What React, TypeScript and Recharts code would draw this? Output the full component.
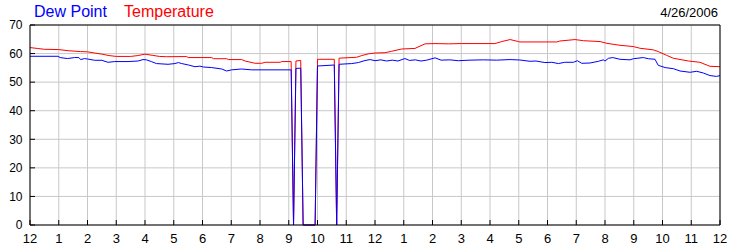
import React from 'react';
import { LineChart, Line, XAxis, YAxis, CartesianGrid } from 'recharts';

// hour of day (0-24) for each reading
const tempHours = [
  0, 0.25, 0.5, 1.0, 1.33, 1.75, 2.0, 2.25, 2.5, 2.75, 3.0, 3.5, 3.75, 4.0, 4.25, 4.5, 4.75,
  5.45, 5.5, 6.32, 6.38, 6.84, 6.9, 7.36, 7.48, 7.83, 8.06, 8.18, 8.7, 8.76,
  9.0833, 9.1667, 9.25, 9.4167, 9.5, 9.9167, 10.0, 10.5833, 10.6667, 10.75,
  11.36, 11.54, 11.77, 12.0, 12.35, 12.58, 12.93, 13.39, 13.74, 14.09, 14.55, 15.0, 15.48,
  16.17, 16.41, 16.7, 16.99, 17.04, 18.32, 18.43, 18.96, 19.25, 19.83, 20.06, 20.52, 20.99,
  21.22, 21.68, 21.85, 22.14, 22.38, 22.9, 23.3, 23.65, 24,
];
const tempValues = [
  62.1, 61.8, 61.5, 61.4, 61.0, 60.7, 60.6, 60.2, 59.8, 59.3, 59.0, 59.0, 59.3, 59.8, 59.4, 59.0, 58.9,
  58.95, 58.6, 58.6, 58.2, 58.2, 57.9, 57.9, 57.4, 56.6, 56.6, 56.95, 56.95, 57.2,
  57.2, 0, 57.4, 57.6, 0, 0, 58.0, 58.0, 0, 58.4,
  58.7, 59.3, 59.9, 60.2, 60.3, 60.8, 61.6, 61.8, 63.4, 63.5, 63.4, 63.5, 63.5,
  63.5, 64.2, 64.9, 64.2, 64.07, 64.07, 64.4, 64.9, 64.5, 64.2, 63.6, 62.9, 62.45,
  61.85, 61.3, 60.7, 59.4, 58.35, 57.4, 56.95, 55.55, 55.4,
];

const dewHours = [
  0, 0.97, 1.05, 1.3, 1.55, 1.7, 1.76, 1.9, 2.0, 2.25, 2.5, 2.71, 2.95, 3.41, 3.76, 3.93, 4.05,
  4.22, 4.4, 4.8, 5.04, 5.16, 5.28, 5.51, 5.74, 5.91, 6.03, 6.32, 6.67, 6.84, 7.01, 7.36, 7.71,
  9.0833, 9.1667, 9.25, 9.4167, 9.5, 9.9167, 10.0, 10.5833, 10.6667, 10.75,
  11.19, 11.42, 11.65, 11.83, 12.0, 12.2, 12.4, 12.6, 12.8, 13.04, 13.2, 13.4, 13.6, 13.8,
  14.09, 14.3, 14.6, 14.9, 15.3, 15.77, 16.23, 16.7, 17.04, 17.39, 17.6, 17.91, 18.15, 18.38,
  18.6, 18.9, 19.04, 19.19, 19.48, 19.77, 19.94, 20.0, 20.12, 20.27, 20.52, 20.87, 20.99,
  21.33, 21.51, 21.74, 21.85, 22.09, 22.38, 22.61, 22.96, 23.19, 23.42, 23.65, 23.88, 24,
];
const dewValues = [
  59.05, 59.05, 58.6, 58.25, 58.6, 58.6, 57.9, 58.25, 58.1, 57.65, 57.65, 56.95, 57.2, 57.2, 57.4, 57.9, 57.8,
  57.2, 56.5, 56.25, 56.5, 56.85, 56.5, 56.0, 55.4, 55.6, 55.3, 55.1, 54.6, 53.9, 54.3, 54.6, 54.3,
  54.3, 0, 54.8, 54.9, 0, 0, 55.65, 56.0, 0, 56.25,
  56.5, 56.85, 57.55, 57.9, 57.5, 57.8, 57.4, 57.7, 57.4, 58.25, 57.6, 57.8, 57.4, 57.7,
  58.5, 57.7, 57.8, 57.5, 57.7, 57.8, 57.7, 57.9, 57.75, 57.3, 57.4, 56.85, 56.95, 56.5,
  56.95, 56.95, 57.5, 56.6, 56.7, 57.3, 57.8, 57.4, 58.35, 58.6, 58.0, 57.8, 58.2,
  58.6, 58.2, 58.0, 55.9, 55.1, 54.7, 53.9, 53.45, 53.8, 53.2, 52.3, 52.0, 52.3,
];

const hourTicks = [0, 1, 2, 3, 4, 5, 6, 7, 8, 9, 10, 11, 12, 13, 14, 15, 16, 17, 18, 19, 20, 21, 22, 23, 24];
const valueTicks = [0, 10, 20, 30, 40, 50, 60, 70];

const tempData = tempHours.map((h, i) => ({ h, v: tempValues[i] }));
const dewData = dewHours.map((h, i) => ({ h, v: dewValues[i] }));

const font = '"Liberation Sans", Arial, sans-serif';
const tickStyle = { fill: '#000', fontSize: 12, fontFamily: font };

const hourLabel = (h: number) => String(h % 12 === 0 ? 12 : h % 12);

export default function App() {
  return (
    <div style={{ position: 'absolute', left: 0, top: 0, width: 750, height: 250, background: '#fff' }}>
      <svg width={750} height={24} style={{ position: 'absolute', left: 0, top: 0 }}>
        <text x={34} y={17} fontSize={16} fontFamily={font} fill="#0000ff">Dew Point</text>
        <text x={124} y={17} fontSize={16} fontFamily={font} fill="#ff0000">Temperature</text>
        <text x={718} y={17} fontSize={13} fontFamily={font} fill="#000" textAnchor="end">4/26/2006</text>
      </svg>
      <LineChart width={750} height={250} margin={{ top: 0, right: 0, bottom: 0, left: 0 }}>
        <CartesianGrid stroke="#c8c8c8" strokeWidth={1} />
        <XAxis
          dataKey="h"
          type="number"
          domain={[0, 24]}
          ticks={hourTicks}
          interval={0}
          tickFormatter={hourLabel}
          height={25}
          tickSize={-5}
          tickMargin={14}
          tick={{ ...tickStyle, fontSize: 13 }}
          axisLine={{ stroke: '#000' }}
          tickLine={{ stroke: '#000' }}
        />
        <XAxis
          xAxisId="top"
          orientation="top"
          dataKey="h"
          type="number"
          domain={[0, 24]}
          ticks={hourTicks}
          interval={0}
          tickFormatter={() => ''}
          height={25}
          tickSize={-5}
          axisLine={{ stroke: '#000' }}
          tickLine={{ stroke: '#000' }}
        />
        <YAxis
          type="number"
          domain={[0, 70]}
          ticks={valueTicks}
          interval={0}
          width={30}
          tickSize={-5}
          tickMargin={12.5}
          tick={tickStyle}
          axisLine={{ stroke: '#000' }}
          tickLine={{ stroke: '#000' }}
        />
        <YAxis
          yAxisId="right"
          orientation="right"
          type="number"
          domain={[0, 70]}
          ticks={valueTicks}
          interval={0}
          width={30}
          tickSize={-5}
          tickMargin={12.5}
          tick={tickStyle}
          axisLine={{ stroke: '#000' }}
          tickLine={{ stroke: '#000' }}
        />
        <Line
          data={tempData}
          dataKey="v"
          type="linear"
          stroke="#ff0000"
          strokeWidth={1}
          dot={false}
          isAnimationActive={false}
        />
        <Line
          data={dewData}
          dataKey="v"
          type="linear"
          stroke="#0000ff"
          strokeWidth={1}
          dot={false}
          isAnimationActive={false}
        />
      </LineChart>
    </div>
  );
}
